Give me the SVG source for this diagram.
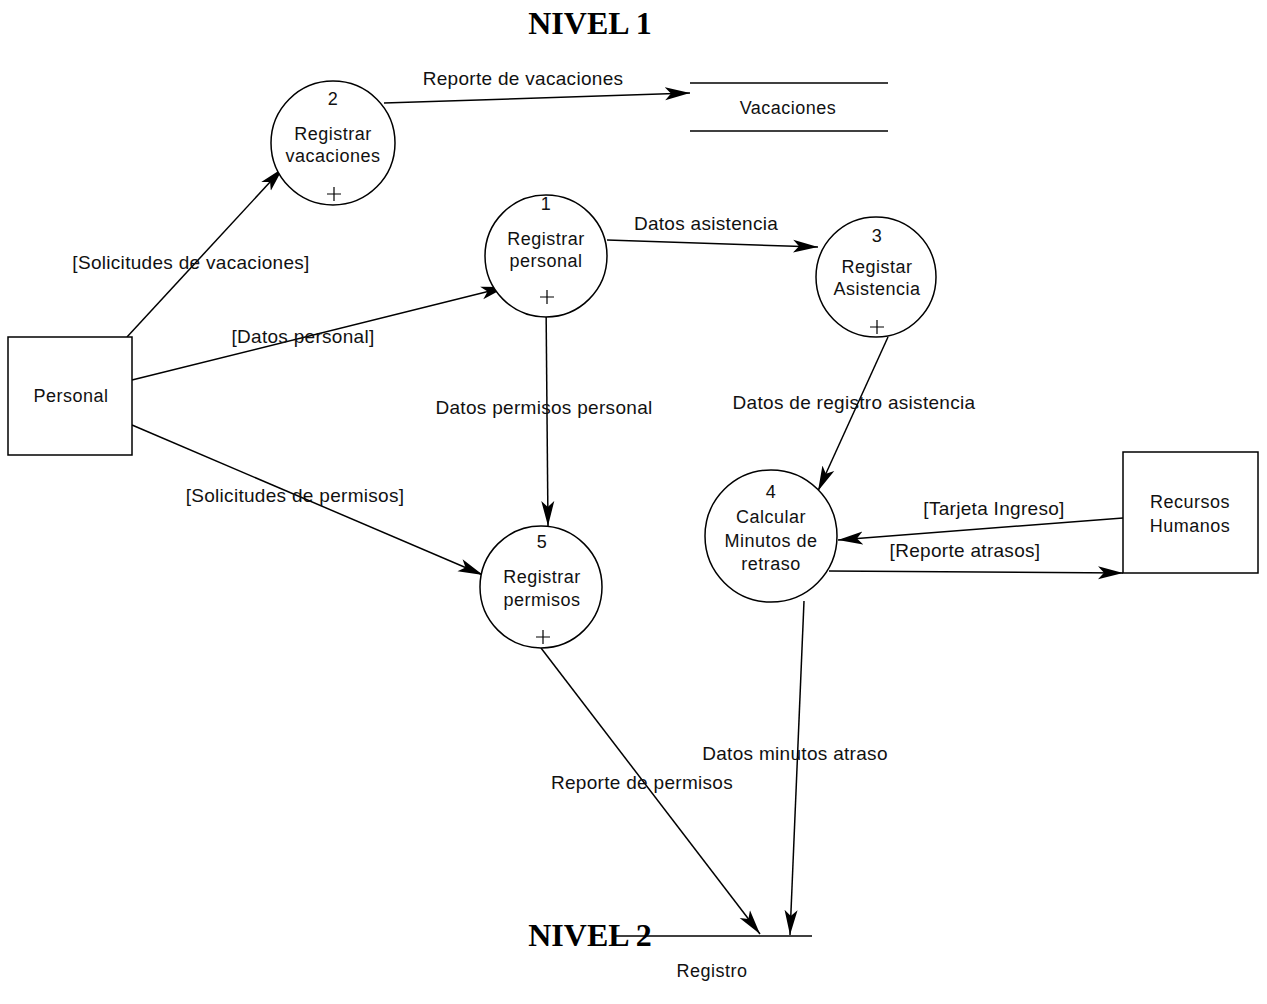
<svg xmlns="http://www.w3.org/2000/svg" width="1267" height="1004" viewBox="0 0 1267 1004">
<style>
.s{fill:#fff;stroke:#000;stroke-width:1.5}
.t{font-family:"Liberation Sans",Arial,sans-serif;font-size:18px;letter-spacing:0.5px;fill:#111;text-anchor:middle}
.l{font-family:"Liberation Sans",Arial,sans-serif;font-size:19px;letter-spacing:0.3px;fill:#111;text-anchor:middle}
.ttl{font-family:"Liberation Serif","Times New Roman",serif;font-size:32px;font-weight:bold;fill:#000;text-anchor:middle}
.c{fill:none;stroke:#000;stroke-width:1.5}
.p{fill:none;stroke:#000;stroke-width:1.2}
</style>
<defs>
<marker id="a" markerUnits="userSpaceOnUse" markerWidth="26" markerHeight="14" viewBox="0 0 26 14" refX="25" refY="7" orient="auto">
<path d="M0,0.5 L25,7 L0,13.5 L6,7 Z" fill="#000"/>
</marker>
</defs>
<rect width="1267" height="1004" fill="#fff"/>
<text class="ttl" x="590" y="34">NIVEL 1</text>

<g id="connectors">
<line class="c" x1="127" y1="337" x2="283" y2="168" marker-end="url(#a)"/>
<line class="c" x1="132" y1="380" x2="506" y2="287" marker-end="url(#a)"/>
<line class="c" x1="132" y1="425" x2="483" y2="575" marker-end="url(#a)"/>
<line class="c" x1="384" y1="103" x2="690" y2="93" marker-end="url(#a)"/>
<line class="c" x1="607" y1="240" x2="818" y2="247" marker-end="url(#a)"/>
<line class="c" x1="546" y1="300" x2="548" y2="526" marker-end="url(#a)"/>
<line class="c" x1="888" y1="337" x2="818" y2="491" marker-end="url(#a)"/>
<line class="c" x1="1123" y1="518" x2="838" y2="540" marker-end="url(#a)"/>
<line class="c" x1="829" y1="571" x2="1123" y2="573" marker-end="url(#a)"/>
<line class="c" x1="804" y1="601" x2="790" y2="935" marker-end="url(#a)"/>
<line class="c" x1="541" y1="648" x2="760" y2="934" marker-end="url(#a)"/>
<text class="l" x="191" y="269">[Solicitudes de vacaciones]</text>
<text class="l" x="303" y="343">[Datos personal]</text>
<text class="l" x="295" y="502">[Solicitudes de permisos]</text>
<text class="l" x="523" y="85">Reporte de vacaciones</text>
<text class="l" x="706" y="230">Datos asistencia</text>
<text class="l" x="544" y="414">Datos permisos personal</text>
<text class="l" x="854" y="409">Datos de registro asistencia</text>
<text class="l" x="994" y="515">[Tarjeta Ingreso]</text>
<text class="l" x="965" y="557">[Reporte atrasos]</text>
<text class="l" x="795" y="760">Datos minutos atraso</text>
<text class="l" x="642" y="789">Reporte de permisos</text>
</g>

<g id="personal">
<rect class="s" x="8" y="337" width="124" height="118"/>
<text class="t" x="71" y="402">Personal</text>
</g>

<g id="rrhh">
<rect class="s" x="1123" y="452" width="135" height="121"/>
<text class="t" x="1190" y="508">Recursos</text>
<text class="t" x="1190" y="532">Humanos</text>
</g>

<g id="p2">
<circle class="s" cx="333" cy="143" r="62"/>
<text class="t" x="333" y="105">2</text>
<text class="t" x="333" y="140">Registrar</text>
<text class="t" x="333" y="162">vacaciones</text>
<path class="p" d="M327,194 H341 M334,187 V201"/>
</g>

<g id="p1">
<circle class="s" cx="546" cy="256" r="61"/>
<text class="t" x="546" y="210">1</text>
<text class="t" x="546" y="245">Registrar</text>
<text class="t" x="546" y="267">personal</text>
<path class="p" d="M540,297 H554 M547,290 V304"/>
</g>

<g id="p3">
<circle class="s" cx="876" cy="277" r="60"/>
<text class="t" x="877" y="242">3</text>
<text class="t" x="877" y="273">Registar</text>
<text class="t" x="877" y="295">Asistencia</text>
<path class="p" d="M870,327 H884 M877,320 V334"/>
</g>

<g id="p4">
<circle class="s" cx="771" cy="536" r="66"/>
<text class="t" x="771" y="498">4</text>
<text class="t" x="771" y="523">Calcular</text>
<text class="t" x="771" y="547">Minutos de</text>
<text class="t" x="771" y="570">retraso</text>
</g>

<g id="p5">
<circle class="s" cx="541" cy="587" r="61"/>
<text class="t" x="542" y="548">5</text>
<text class="t" x="542" y="583">Registrar</text>
<text class="t" x="542" y="606">permisos</text>
<path class="p" d="M536,637 H550 M543,630 V644"/>
</g>

<g id="vacaciones">
<line class="c" x1="690" y1="83" x2="888" y2="83"/>
<line class="c" x1="690" y1="131" x2="888" y2="131"/>
<text class="t" x="788" y="114">Vacaciones</text>
</g>

<text class="ttl" x="590" y="946">NIVEL 2</text>

<g id="registro">
<line class="c" x1="613" y1="936" x2="812" y2="936"/>
<text class="t" x="712" y="977">Registro</text>
</g>
</svg>
